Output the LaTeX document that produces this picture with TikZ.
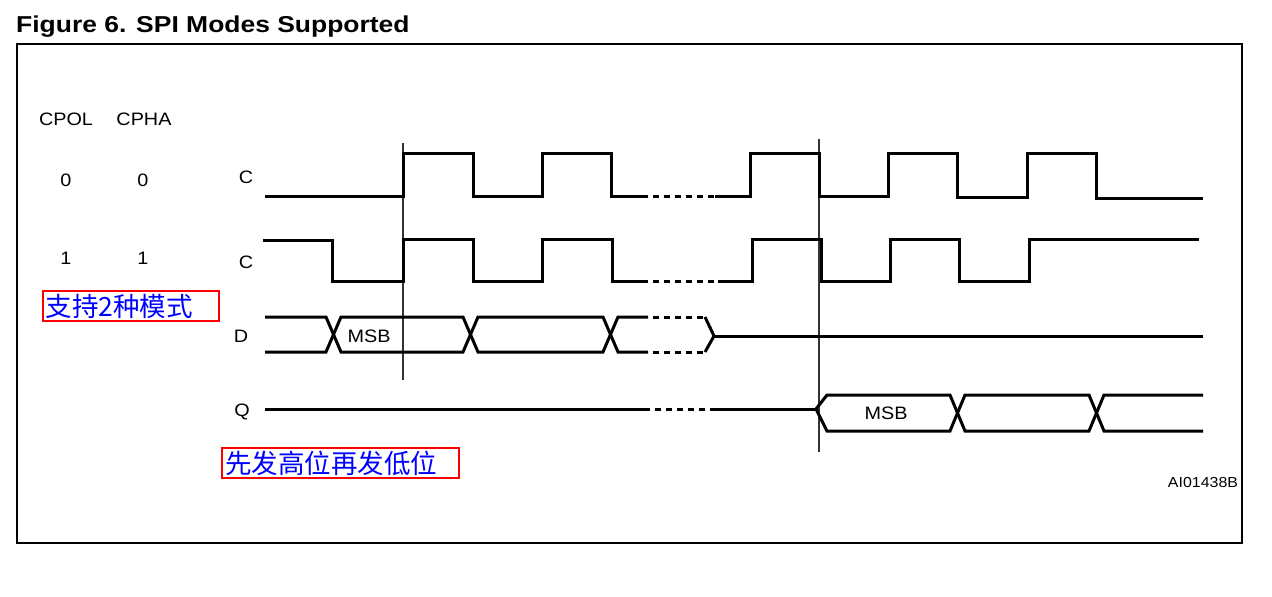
\documentclass[tikz,border=0pt]{standalone}
\usepackage{fontspec}
\setmainfont{Liberation Sans}[FakeStretch=1.1]
\newfontfamily\titlefont{Liberation Sans}[FakeStretch=1.15]
\newfontfamily\cjkfont{Noto Sans CJK SC}
\usetikzlibrary{positioning}
\tikzset{
    wave/.style = {line width=3pt,black,line join=miter},
    waved/.style = {wave,dash pattern=on 6pt off 5pt,dash phase=6pt},
    marker/.style = {line width=1.3pt,black!80},
    sig/.style = {inner sep=0pt,font=\fontsize{18}{21}\selectfont},
    tag/.style = {inner sep=0pt,font=\fontsize{14.5}{16}\selectfont},
    note/.style = {rectangle,draw=red,line width=2pt,text=blue,align=left,
                   inner sep=3pt,minimum height=30pt,font=\cjkfont\fontsize{26.5}{28}\selectfont},
    frame/.style = {line width=1.8pt,black}
}

\begin{document}
\begin{tikzpicture}[x=1pt,y=-1pt]
\useasboundingbox (0,0) rectangle (1272,597);
%
\node[anchor=base west,inner sep=0pt,font=\titlefont\bfseries\fontsize{23}{26}\selectfont] at (16,32) (title) {Figure 6. SPI Modes Supported};
\draw[frame] (17,44) rectangle (1242,543);
%
\node[sig] at (66,119) (cpol) {CPOL};
\node[sig] at (144,119) (cpha) {CPHA};
\node[sig] at (66,180) (pol0) {0};
\node[sig] at (143,180) (pha0) {0};
\node[sig] at (66,258) (pol1) {1};
\node[sig] at (143,258) (pha1) {1};
\node[sig] at (246,177) (clka) {C};
\node[sig] at (246,262) (clkb) {C};
\node[sig] at (241,336) (din) {D};
\node[sig] at (242,412) (dout) {Q};
\node[sig] at (369,336) (msbd) {MSB};
\node[sig] at (886,413) (msbq) {MSB};
\node[tag] at (1203,483) (ref) {AI01438B};
%
\node[note,text width=170pt] at (130.5,306) (modes) {支持2种模式};
\node[note,text width=231pt] at (340.5,463) (order) {先发高位再发低位};
%
\draw[marker] (403,143) -- (403,380);
\draw[marker] (819,139) -- (819,452);
%
% CPOL=0 clock
\draw[wave] (265,196) -- (403,196) -- (403,153) -- (473,153) -- (473,196) -- (542,196) -- (542,153) -- (611,153) -- (611,196) -- (648,196);
\draw[waved] (648,196) -- (715,196);
\draw[wave] (715,196) -- (750,196) -- (750,153) -- (819,153) -- (819,196) -- (888,196) -- (888,153) -- (957,153) -- (957,197) -- (1027,197) -- (1027,153) -- (1096,153) -- (1096,198) -- (1203,198);
% CPOL=1 clock
\draw[wave] (263,240) -- (332,240) -- (332,281) -- (403,281) -- (403,239) -- (473,239) -- (473,281) -- (542,281) -- (542,239) -- (612,239) -- (612,281) -- (648,281);
\draw[waved] (648,281) -- (718,281);
\draw[wave] (718,281) -- (752,281) -- (752,239) -- (821,239) -- (821,281) -- (890,281) -- (890,239) -- (959,239) -- (959,281) -- (1029,281) -- (1029,239) -- (1199,239);
% data in
\draw[wave] (265,317) -- (326,317) -- (341,352) -- (463,352) -- (478,317) -- (603,317) -- (618,352) -- (648,352);
\draw[wave] (265,352) -- (326,352) -- (341,317) -- (463,317) -- (478,352) -- (603,352) -- (618,317) -- (648,317);
\draw[waved] (648,317) -- (705,317);
\draw[waved] (648,352) -- (705,352);
\draw[wave] (705,317) -- (714,336) -- (705,352);
\draw[wave] (714,336) -- (1203,336);
% data out
\draw[wave] (265,409) -- (650,409);
\draw[waved] (650,409) -- (715,409);
\draw[wave] (715,409) -- (816,409);
\draw[wave] (816,409) -- (827,395) -- (950,395) -- (965,431) -- (1089,431) -- (1104,395) -- (1203,395);
\draw[wave] (816,409) -- (827,431) -- (950,431) -- (965,395) -- (1089,395) -- (1104,431) -- (1203,431);
\end{tikzpicture}
\end{document}
